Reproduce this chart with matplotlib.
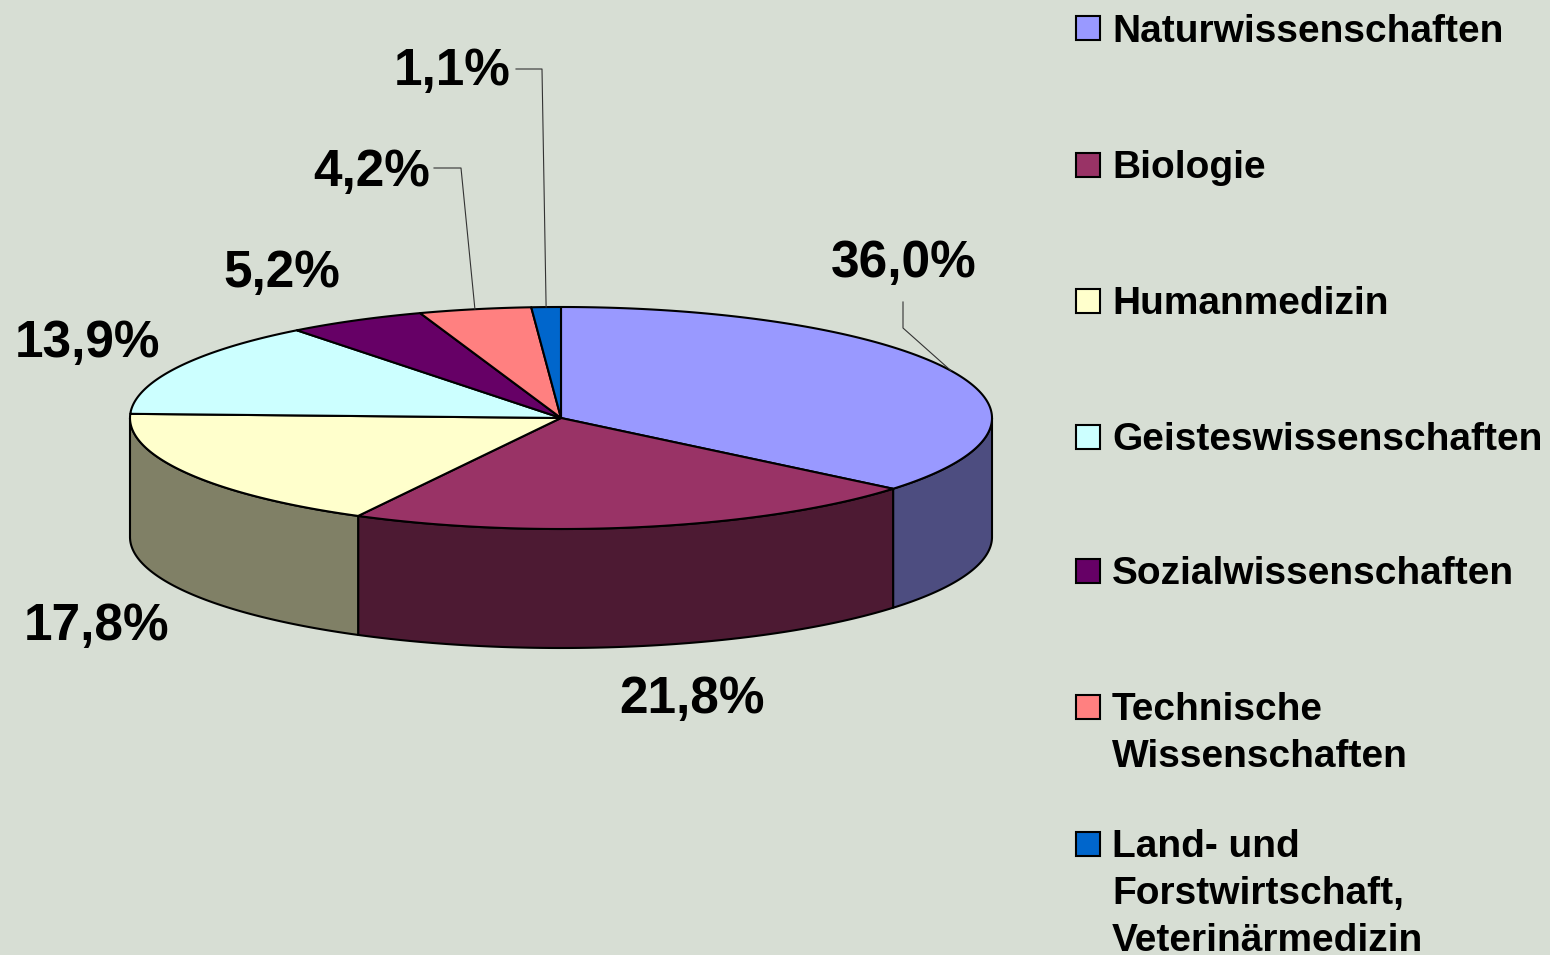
import numpy as np
import matplotlib.pyplot as plt
from matplotlib.patches import Polygon, Rectangle

plt.rcParams['font.family'] = ['Liberation Sans', 'DejaVu Sans']

# data
categories = ["Naturwissenschaften", "Biologie", "Humanmedizin",
              "Geisteswissenschaften", "Sozialwissenschaften",
              "Technische\nWissenschaften",
              "Land- und\nForstwirtschaft,\nVeterinärmedizin"]
shares = [36.0, 21.8, 17.8, 13.9, 5.2, 4.2, 1.1]
colors = ["#9999FF", "#993366", "#FFFFCC", "#CCFFFF", "#660066", "#FF8080", "#0066CC"]

# layout (pixels)
label_xy = [(904, 277), (692, 713), (97, 640), (87, 357), (282, 287), (372, 186), (452, 85)]
leaders = {0: [(903, 302), (903, 328)],
           5: [(434, 168), (461, 168)],
           6: [(516, 69), (542, 69)]}
legend_marker_y = [28.5, 165, 301, 437, 571, 707, 844]
cx, cy, rx, ry, depth = 561, 418, 431, 111, 119
bg = "#D7DED4"

fig = plt.figure(figsize=(15.5, 9.55), dpi=100)
fig.patch.set_facecolor(bg)
ax = fig.add_axes([0, 0, 1, 1])
ax.set_xlim(0, 1550)
ax.set_ylim(955, 0)
ax.axis('off')


def pt(t, dz=0.0):
    r = np.radians(t)
    return cx + rx * np.sin(r), cy - ry * np.cos(r) + dz


def shade(c):
    rgb = np.array([int(c[i:i + 2], 16) for i in (1, 3, 5)]) / 255.0
    return tuple(rgb * 0.5)


bounds = np.concatenate([[0], np.cumsum(shares)]) / sum(shares) * 360

for i in range(len(shares)):
    a0, a1 = bounds[i], bounds[i + 1]
    # side wall (only front half visible)
    s0, s1 = max(a0, 90), min(a1, 270)
    if s1 > s0:
        ts = np.linspace(s0, s1, 200)
        top = [pt(t) for t in ts]
        bot = [pt(t, depth) for t in ts[::-1]]
        ax.add_patch(Polygon(top + bot, closed=True, facecolor=shade(colors[i]),
                             edgecolor='black', lw=1.5, joinstyle='round', zorder=1))
    # top face
    ts = np.linspace(a0, a1, max(int((a1 - a0) * 3), 4))
    poly = [(cx, cy)] + [pt(t) for t in ts]
    ax.add_patch(Polygon(poly, closed=True, facecolor=colors[i],
                         edgecolor='black', lw=1.5, joinstyle='round', zorder=2))

# percentage labels and leader lines
for i, v in enumerate(shares):
    txt = f"{v:.1f}".replace(".", ",") + "%"
    x, y = label_xy[i]
    ax.text(x, y, txt, ha='center', va='baseline', fontsize=37,
            fontweight='bold', color='black', zorder=5)
    if i in leaders:
        mid = (bounds[i] + bounds[i + 1]) / 2
        pts = leaders[i] + [pt(mid)]
        ax.plot([p[0] for p in pts], [p[1] for p in pts], color='#333333',
                lw=0.8, zorder=4)

# legend
for i, name in enumerate(categories):
    my = legend_marker_y[i]
    ax.add_patch(Rectangle((1076, my - 12), 24, 24, facecolor=colors[i],
                           edgecolor='black', lw=1.5, zorder=3))
    for k, line in enumerate(name.split("\n")):
        ax.text(1112, my + 13 + k * 47, line, ha='left', va='baseline',
                fontsize=28, fontweight='bold', color='black')

fig.savefig("out.png", dpi=100, facecolor=bg)
